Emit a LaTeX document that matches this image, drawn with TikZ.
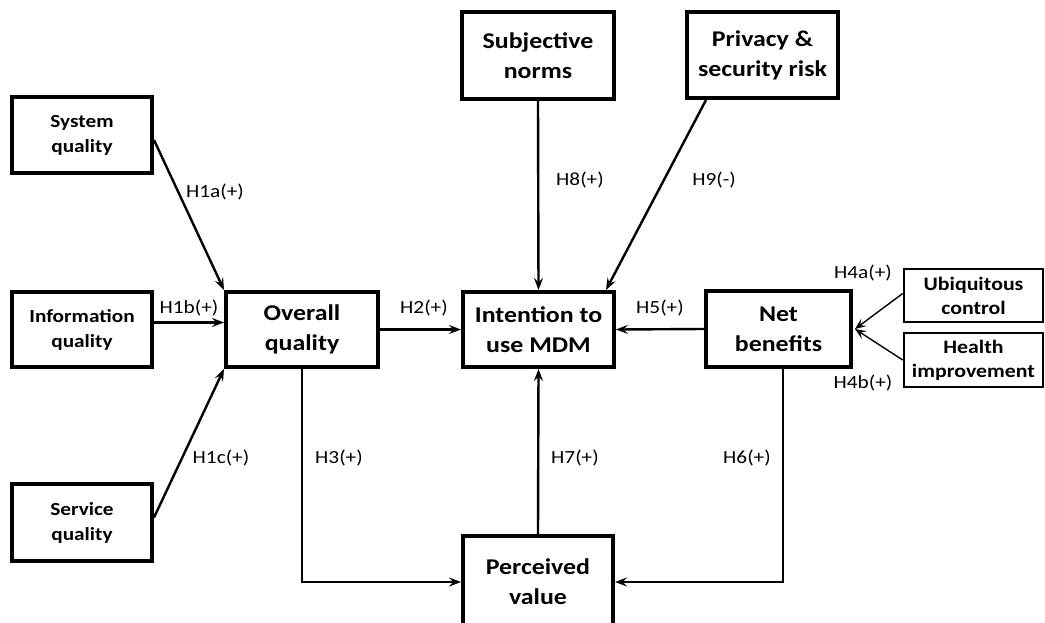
\documentclass[tikz,border=0pt]{standalone}
\usepackage{fontspec}
\setmainfont{Carlito}[FakeStretch=1.15]
\usetikzlibrary{arrows.meta,calc}
\begin{document}
\begin{tikzpicture}[x=1pt,y=-1pt,
  bigbox/.style={draw=black,line width=4pt,align=center,inner sep=0pt,font=\fontsize{22.5}{30}\selectfont\bfseries},
  smallbox/.style={draw=black,line width=4pt,align=center,inner sep=0pt,font=\fontsize{18.5}{25}\selectfont\bfseries},
  thinbox/.style={draw=black,line width=2.6pt,align=center,inner sep=0pt,font=\fontsize{19}{24}\selectfont\bfseries},
  hlabel/.style={font=\fontsize{18.5}{21}\selectfont,inner sep=0pt},
  conn/.style={line width=2.4pt,-{Stealth[length=12pt,width=9pt,inset=4.5pt]}},
  thinconn/.style={line width=1.4pt,-{Stealth[length=11pt,width=9pt,inset=4.5pt]}}]
\clip (0,0) rectangle (1045,622);
\fill[white] (0,0) rectangle (1045,622);
% boxes
\node[smallbox,minimum width=140pt,minimum height=76pt] (sys) at (82,135) {System\\quality};
\node[smallbox,minimum width=140pt,minimum height=75pt] (info) at (82,329.5) {Information\\quality};
\node[smallbox,minimum width=140pt,minimum height=77pt] (serv) at (82,522.5) {Service\\quality};
\node[bigbox,minimum width=152pt,minimum height=75pt] (overall) at (302,329.5) {Overall\\quality};
\node[bigbox,minimum width=151pt,minimum height=75pt] (intent) at (538.5,329.5) {Intention to\\use MDM};
\node[bigbox,minimum width=145pt,minimum height=76pt] (net) at (778.5,329) {Net\\benefits};
\node[thinbox,minimum width=139pt,minimum height=53pt] (ubiq) at (973.5,295.5) {Ubiquitous\\control};
\node[thinbox,minimum width=139pt,minimum height=54pt] (health) at (973.5,360) {Health\\improvement};
\node[bigbox,minimum width=152pt,minimum height=87pt] (subj) at (538,55.5) {Subjective\\norms};
\node[bigbox,minimum width=151pt,minimum height=86pt] (priv) at (762.5,55) {Privacy \&\\security risk};
\node[bigbox,minimum width=150pt,minimum height=92pt,text depth=0pt] (perc) at (538,582) {Perceived\\value};
% connectors
\draw[conn] ([yshift=-5pt]sys.east) -- (overall.north west);
\draw[conn] ([yshift=7pt]info.east) -- ([yshift=7pt]overall.west);
\draw[conn] ([yshift=5pt]serv.east) -- (overall.south west);
\draw[conn] (overall.east) -- (intent.west);
\draw[conn] (net.west) -- (intent.east);
\draw[conn] (subj.south) -- (intent.north);
\draw[conn] ([xshift=21pt]priv.south west) -- ([xshift=-10pt]intent.north east);
\draw[conn] (perc.north) -- (intent.south);
\draw[conn] (overall.south) |- (perc.west);
\draw[conn] ([xshift=4.5pt]net.south) |- (perc.east);
\draw[thinconn] ([yshift=2pt]ubiq.west) -- ([xshift=2pt]net.east);
\draw[thinconn] (health.west) -- ([xshift=2pt]net.east);
% labels
\node[hlabel] (l1a) at (215,192) {H1a(+)};
\node[hlabel] (l1b) at (189,308) {H1b(+)};
\node[hlabel] (l1c) at (221,458) {H1c(+)};
\node[hlabel] (l2) at (424,308) {H2(+)};
\node[hlabel] (l3) at (339,458) {H3(+)};
\node[hlabel] (l4a) at (863,273) {H4a(+)};
\node[hlabel] (l4b) at (863,383) {H4b(+)};
\node[hlabel] (l5) at (660,308) {H5(+)};
\node[hlabel] (l6) at (747,458) {H6(+)};
\node[hlabel] (l7) at (575,458) {H7(+)};
\node[hlabel] (l8) at (580,180) {H8(+)};
\node[hlabel] (l9) at (714,180) {H9(-)};
\end{tikzpicture}
\end{document}
